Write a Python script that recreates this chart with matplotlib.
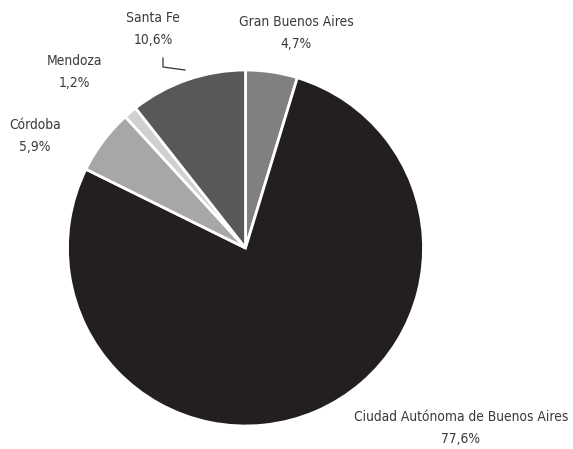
import matplotlib
matplotlib.use("Agg")
import matplotlib.pyplot as plt

regions = ["Gran Buenos Aires", "Ciudad Autónoma de Buenos Aires", "Córdoba", "Mendoza", "Santa Fe"]
shares = [4.7, 77.6, 5.9, 1.2, 10.6]
colors = ["#808082", "#231f20", "#a7a7a8", "#d0d0d1", "#58585a"]

plt.rcParams['font.family'] = ['DejaVu Sans']
plt.rcParams['font.stretch'] = 'condensed'

fig = plt.figure(figsize=(5.73, 4.49), dpi=100)
ax = fig.add_axes([0, 0, 1, 1])
H = 449

ax.pie(shares, colors=colors, startangle=90, counterclock=False,
       center=(245.5, H - 248), radius=178, frame=True,
       wedgeprops=dict(edgecolor="white", linewidth=2))
ax.set_xlim(0, 573)
ax.set_ylim(0, H)
ax.set_aspect("equal")
ax.axis("off")

# label positions in pixels (x center, y of first line)
pos = {
    "Gran Buenos Aires": (296, 22),
    "Ciudad Autónoma de Buenos Aires": (461, 417),
    "Córdoba": (35, 125),
    "Mendoza": (74, 61),
    "Santa Fe": (153, 18),
}
for name, val in zip(regions, shares):
    x, y = pos[name]
    pct = f"{val:.1f}%".replace(".", ",")
    ax.text(x, H - y, name, ha="center", va="center", fontsize=9.9,
            color="#3a3a3a", fontstretch="condensed")
    ax.text(x, H - y - 22, pct, ha="center", va="center", fontsize=9.9,
            color="#3a3a3a", fontstretch="condensed")

# leader line for Santa Fe
ax.plot([163, 163, 185], [H - 58, H - 67, H - 70], color="#333333", lw=0.9)

fig.savefig("out.png", dpi=100)
